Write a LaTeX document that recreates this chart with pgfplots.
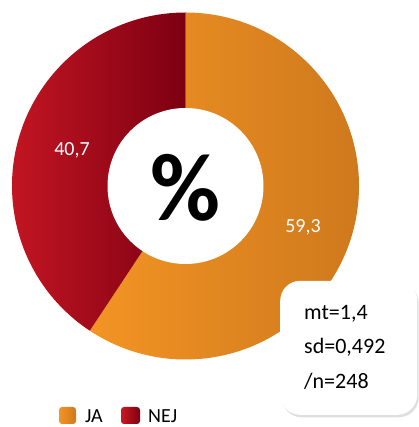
\documentclass[border=0pt]{standalone}
\usepackage{fontspec}
\setmainfont{Carlito}
\usepackage{pgfplots}
\pgfplotsset{compat=1.18}
\usepackage{pgfplotstable}
\usetikzlibrary{shadows}

\definecolor{jaL}{RGB}{243,148,36}
\definecolor{jaR}{RGB}{206,121,29}
\definecolor{nejL}{RGB}{204,24,36}
\definecolor{nejR}{RGB}{124,0,18}

% share of answers, per cent
\pgfplotstableread{
label value
JA    59.3
NEJ   40.7
}\piedata

\begin{document}
\begin{tikzpicture}
\pgfplotstablegetelem{0}{value}\of\piedata \let\ja\pgfplotsretval
\pgfplotstablegetelem{1}{value}\of\piedata \let\nej\pgfplotsretval
\pgfmathsetmacro{\aStart}{90}
\pgfmathsetmacro{\aMid}{90-3.6*\ja}
\pgfmathsetmacro{\aEnd}{\aMid-3.6*\nej}
\def\R{173.5pt}
\begin{axis}[
  name=ax,
  scale only axis,
  width=418pt, height=427pt,
  xmin=0, xmax=418, ymin=0, ymax=427,
  hide axis,
  clip=false,
  ]
  % JA slice
  \shade[left color=jaL, right color=jaR]
    (axis cs:185.5,241) -- ++(\aStart:\R)
    arc[start angle=\aStart, end angle=\aMid, radius=\R] -- cycle;
  % NEJ slice
  \shade[left color=nejL, right color=nejR]
    (axis cs:185.5,241) -- ++(\aMid:\R)
    arc[start angle=\aMid, end angle=\aEnd, radius=\R] -- cycle;
  % hole
  \fill[white] (axis cs:185.5,241) circle[radius=78pt];
  \node[font=\fontsize{96}{100}\selectfont\bfseries] at (axis cs:185,239) {\%};

  % value labels
  \node[white, font=\fontsize{20}{24}\selectfont] at (axis cs:303,200) {59,3};
  \node[white, font=\fontsize{20}{24}\selectfont] at (axis cs:72,277) {40,7};

  % stats box
  \node[fill=white, rounded corners=20pt, minimum width=137pt, minimum height=134pt,
        anchor=south west, inner sep=0pt,
        drop shadow={shadow xshift=1.5pt, shadow yshift=-2.5pt, opacity=0.25}]
        at (axis cs:280,12) {};
  \node[anchor=base west, inner sep=0pt, font=\fontsize{22}{26}\selectfont] at (axis cs:304,107) {mt=1,4};
  \node[anchor=base west, inner sep=0pt, font=\fontsize{22}{26}\selectfont] at (axis cs:304,73) {sd=0,492};
  \node[anchor=base west, inner sep=0pt, font=\fontsize{22}{26}\selectfont] at (axis cs:304,38) {/n=248};

  % legend
  \shade[left color=jaL, right color=jaR, rounded corners=3pt]
    (axis cs:59,3) rectangle (axis cs:76,20);
  \node[anchor=base west, inner sep=0pt, font=\fontsize{20}{24}\selectfont] at (axis cs:85,4.5) {JA};
  \shade[left color=nejL, right color=nejR, rounded corners=3pt]
    (axis cs:121,3) rectangle (axis cs:140,20);
  \node[anchor=base west, inner sep=0pt, font=\fontsize{20}{24}\selectfont] at (axis cs:148,4.5) {NEJ};
\end{axis}
\pgfresetboundingbox
\path (ax.south west) rectangle (ax.north east);
\end{tikzpicture}
\end{document}
